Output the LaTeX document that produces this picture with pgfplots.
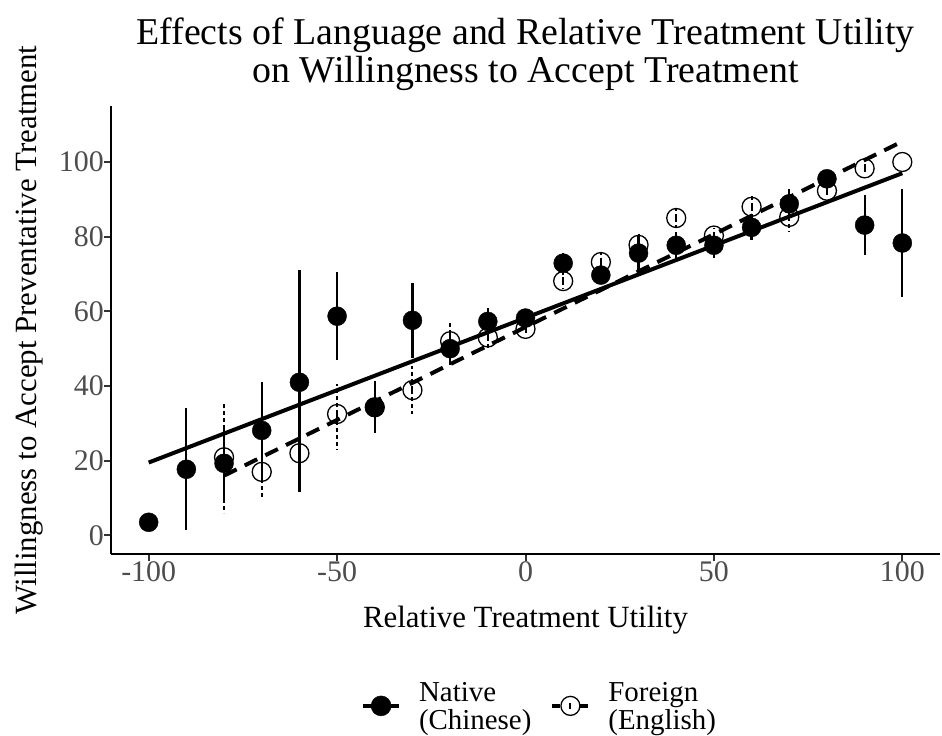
\documentclass[border=0pt]{standalone}
\usepackage{fontspec}
\setmainfont{Liberation Serif}
\usepackage{pgfplots}
\pgfplotsset{compat=1.18}
\usepackage{pgfplotstable}
\definecolor{tickgrey}{HTML}{4D4D4D}
\definecolor{tickcol}{HTML}{333333}

\pgfplotstableread{
x y ep em
-100 3.5 0 0
-90 17.7 16.3 16.4
-80 19.3 10.2 10.2
-70 28.1 13 13
-60 41 30 29.5
-50 58.7 11.8 11.8
-40 34.3 7 7
-30 57.6 10 10
-20 50 4.5 4.5
-10 57.3 3.7 3.7
0 58.2 1.5 1.5
10 72.9 2.8 2.8
20 69.7 2.5 2.5
30 75.6 4.8 4.8
40 77.7 3.5 3.5
50 77.7 3.5 3.5
60 82.5 3.5 3.5
70 88.8 4 4
80 95.5 1 1
90 83.1 8 8
100 78.3 14.5 14.5
}\native

\pgfplotstableread{
x y ep em
-80 20.9 14.8 15
-70 17 7 7
-60 22 10 10
-50 32.5 8 9.5
-40 34.3 7 7
-30 38.9 6.5 6.5
-20 52 5 5
-10 53 3 3.5
0 55.3 1.5 1.5
10 68.1 2 2
20 73.2 2.5 2.5
30 77.8 3 3
40 85 2.5 2.5
50 80.3 2 2
60 88 3 3
70 85.3 4 4
80 92.3 1.5 1.5
90 98.3 1.5 1.5
100 100 0 0
}\foreign

\begin{document}
\begin{tikzpicture}
\useasboundingbox (-111bp,-182bp) rectangle (831bp,554bp);
\begin{axis}[
  at={(0,0)}, anchor=south west,
  scale only axis, width=829bp, height=448bp,
  xmin=-110, xmax=110, ymin=-5, ymax=115,
  axis x line*=bottom, axis y line*=left,
  axis line style={line width=2.2bp, -},
  xtick={-100,-50,0,50,100}, ytick={0,20,40,60,80,100},
  tick align=outside, major tick length=7bp,
  tick style={line width=2bp, color=tickcol},
  /pgf/number format/assume math mode=true,
  tick label style={font=\fontsize{30}{36}\selectfont, text=tickgrey, inner sep=0pt},
  xticklabel style={anchor=north},
  yticklabel style={anchor=east},
  title={Effects of Language and Relative Treatment Utility\\on Willingness to Accept Treatment},
  title style={align=center, font=\fontsize{38}{38}\selectfont, inner sep=0pt, anchor=south, at={(axis description cs:0.5,1.02)}},
  xlabel={Relative Treatment Utility},
  xlabel style={font=\fontsize{31}{36}\selectfont, inner sep=0pt, anchor=base, at={(axis description cs:0.5,-0.163)}},
  ylabel={Willingness to Accept Preventative Treatment},
  ylabel style={font=\fontsize{31}{36}\selectfont, inner sep=0pt, anchor=base, at={(axis description cs:-0.0893,0.5)}},
  legend columns=2,
  legend style={draw=none, fill=none, at={(axis description cs:0.5157,-0.339)}, anchor=center,
    font=\fontsize{29}{27}\selectfont, inner sep=0pt,
    /tikz/every odd column/.append style={column sep=18bp},
    /tikz/every even column/.append style={column sep=19bp},
    nodes={inner sep=0pt}},
  legend cell align=left,
]
\addplot[forget plot, only marks, black, mark=o, mark size=9.5bp, mark options={line width=1.3bp, solid},
  error bars/.cd, y dir=both, y explicit, error mark=none,
  error bar style={line width=2bp, dash pattern=on 4bp off 3bp}]
  table[x=x, y=y, y error plus=ep, y error minus=em] {\foreign};
\addplot[forget plot, only marks, black, mark=*, mark size=9.5bp,
  error bars/.cd, y dir=both, y explicit, error mark=none,
  error bar style={line width=2.2bp, solid}]
  table[x=x, y=y, y error plus=ep, y error minus=em] {\native};
\addplot[forget plot, black, line width=4bp, no marks] coordinates {(-100,19.5) (100,97)};
\addplot[forget plot, black, line width=4bp, no marks, dash pattern=on 14bp off 9bp] coordinates {(-80,16) (100,105.5)};

\addlegendimage{legend image code/.code={
  \draw[line width=4bp] (0bp,0bp) -- (36bp,0bp);
  \fill (18bp,0bp) circle (10bp);}}
\addlegendentry{\raisebox{11bp}{\begin{tabular}{@{}l@{}}Native\\(Chinese)\end{tabular}}}
\addlegendimage{legend image code/.code={
  \draw[line width=4bp] (0bp,0bp) -- (8bp,0bp);
  \draw[line width=4bp] (28bp,0bp) -- (36bp,0bp);
  \draw[line width=1.3bp] (18bp,0bp) circle (9.5bp);
  \draw[line width=2bp] (18bp,-3bp) -- (18bp,3bp);}}
\addlegendentry{\raisebox{11bp}{\begin{tabular}{@{}l@{}}Foreign\\(English)\end{tabular}}}
\end{axis}
\end{tikzpicture}
\end{document}
